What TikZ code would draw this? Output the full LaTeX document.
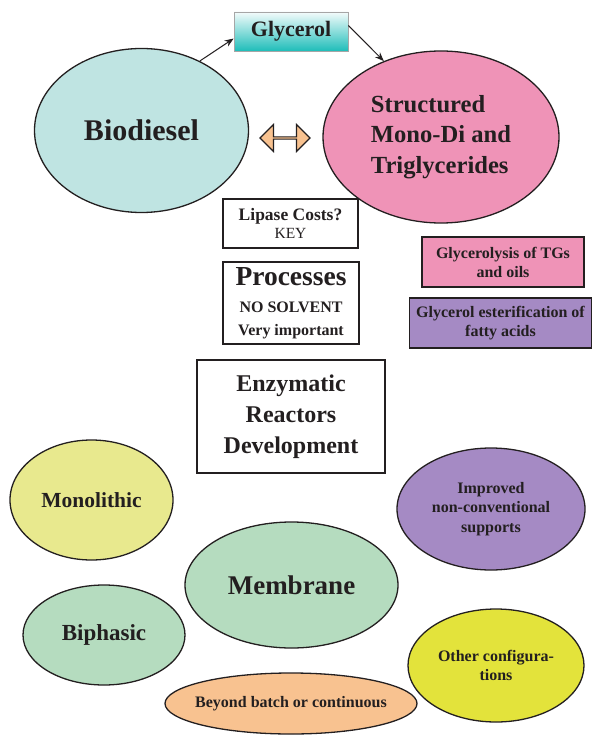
\documentclass[tikz,border=0pt]{standalone}
\usepackage{fontspec}
\setmainfont{Liberation Serif}
\usetikzlibrary{shapes.geometric,shapes.arrows,arrows.meta}

\definecolor{ink}{HTML}{231F20}
\definecolor{aqua}{HTML}{BFE4E2}
\definecolor{rose}{HTML}{EF93B7}
\definecolor{teal2}{HTML}{1EBDB9}
\definecolor{peach}{HTML}{F8C290}
\definecolor{lilac}{HTML}{A58AC4}
\definecolor{paleyel}{HTML}{E8E98E}
\definecolor{mint}{HTML}{B5DCBF}
\definecolor{lemon}{HTML}{E3E33B}

\newcommand{\fs}[2]{\fontsize{#1}{#2}\selectfont}

\tikzset{
  oval/.style={ellipse, draw=ink, line width=1.3pt, inner sep=0pt,
    text=ink, align=center},
  plainbox/.style={rectangle, draw=ink, line width=1.6pt, fill=white,
    inner sep=0pt, text=ink, align=center},
  tagbox/.style={rectangle, draw=ink, line width=1.6pt, inner sep=0pt,
    text=ink, align=center},
  link/.style={-{Stealth[length=9pt,width=7pt]}, line width=1pt, draw=ink}
}

\begin{document}
\begin{tikzpicture}[x=1pt,y=-1pt]
\useasboundingbox (0,0) rectangle (593,735);

% top row: products and the glycerol intermediate
\node[oval, fill=aqua, minimum width=214, minimum height=164,
  font=\fs{30}{34}\bfseries]
  (bio) at (141.5,130.5) {Biodiesel};
\node[oval, fill=rose, minimum width=236, minimum height=172, align=left,
  font=\fs{24.6}{30.5}\bfseries]
  (struct) at (441,137) {Structured\\Mono-Di and\\Triglycerides};
\node[rectangle, draw=black!35, line width=0.8pt, top color=teal2!5,
  middle color=teal2!55, bottom color=teal2, minimum width=114,
  minimum height=39, inner sep=0pt, text=ink, font=\fs{22}{24}\bfseries]
  (glyc) at (291,31.5) {Glycerol};

\draw[link] (bio.50.5) -- (glyc.187.5);
\draw[link] (glyc.6.5) -- (struct.127.7);

\node[double arrow, draw=ink, line width=1.2pt, fill=peach,
  minimum width=27, minimum height=50, double arrow head extend=6.5,
  inner sep=0pt] (swap) at (285,138) {};

% central column
\node[plainbox, minimum width=135, minimum height=49,
  font=\fs{17.5}{18.7}\bfseries]
  (cost) at (290.5,223.5)
  {Lipase Costs?\\{\fs{15.5}{18.7}\mdseries KEY}};
\node[plainbox, minimum width=136, minimum height=82,
  font=\fs{16}{22.5}\bfseries]
  (proc) at (291,303)
  {{\fs{27.5}{27.5}Processes}\\[4.5pt]NO SOLVENT\\Very important};
\node[plainbox, minimum width=188, minimum height=113,
  font=\fs{24}{31}\bfseries]
  (enz) at (291,416.5)
  {Enzymatic\\Reactors\\Development};

% reaction types
\node[tagbox, fill=rose, minimum width=162, minimum height=50,
  font=\fs{16}{19}\bfseries]
  (glysis) at (503,262) {Glycerolysis of TGs\\and oils};
\node[tagbox, fill=lilac, minimum width=182, minimum height=50,
  font=\fs{16}{19.5}\bfseries]
  (ester) at (500.5,323) {Glycerol esterification of\\fatty acids};

% reactor configurations
\node[oval, fill=paleyel, minimum width=163, minimum height=120,
  font=\fs{21.5}{24}\bfseries]
  (mono) at (91.5,500) {Monolithic};
\node[oval, fill=lilac, minimum width=188, minimum height=122,
  font=\fs{16}{19.5}\bfseries]
  (supp) at (491,509) {Improved\\non-conventional\\supports};
\node[oval, fill=mint, minimum width=213, minimum height=126,
  font=\fs{27}{30}\bfseries]
  (memb) at (291.5,585) {Membrane};
\node[oval, fill=mint, minimum width=162, minimum height=100,
  font=\fs{23}{26}\bfseries]
  (biph) at (104,635) {Biphasic};
\node[oval, fill=lemon, minimum width=176, minimum height=113,
  font=\fs{16}{19}\bfseries]
  (other) at (496,665.5) {Other configura-\\tions};
\node[oval, fill=peach, minimum width=252, minimum height=61,
  inner xsep=-12pt, font=\fs{16}{18}\bfseries]
  (beyond) at (291,703.5) {Beyond batch or continuous};
\end{tikzpicture}
\end{document}
